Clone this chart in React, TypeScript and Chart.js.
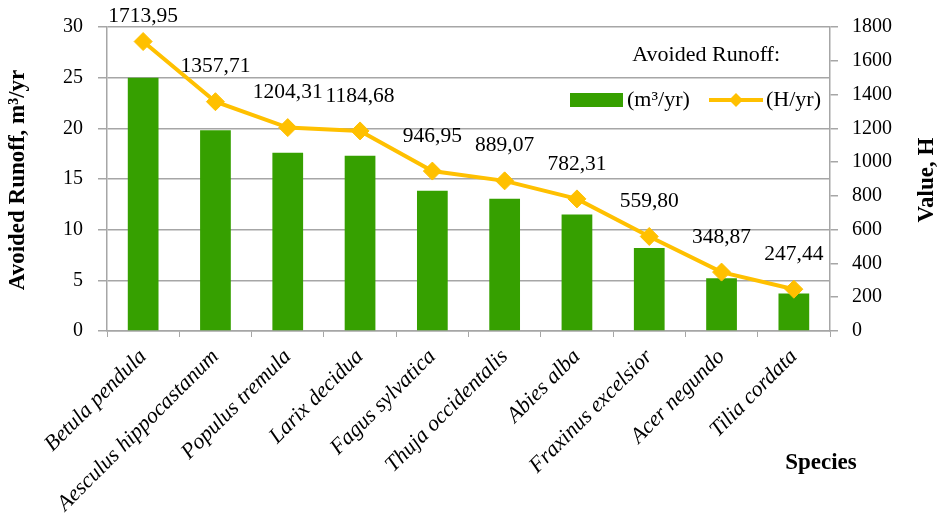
import React, { useEffect, useRef } from "react";
import { Chart, registerables } from "chart.js";

Chart.register(...registerables);

const species = [
  "Betula pendula",
  "Aesculus hippocastanum",
  "Populus tremula",
  "Larix decidua",
  "Fagus sylvatica",
  "Thuja occidentalis",
  "Abies alba",
  "Fraxinus excelsior",
  "Acer negundo",
  "Tilia cordata",
];
const runoffM3 = [25.0, 19.8, 17.6, 17.3, 13.85, 13.05, 11.5, 8.2, 5.2, 3.7];
const runoffH = [1713.95, 1357.71, 1204.31, 1184.68, 946.95, 889.07, 782.31, 559.8, 348.87, 247.44];
const leftTicks = { min: 0, max: 30, step: 5 };
const rightTicks = { min: 0, max: 1800, step: 200 };

const SERIF = "'Liberation Serif', 'Times New Roman', serif";
const GREEN = "#36A000";
const GOLD = "#FFC000";
const GRID = "#A6A6A6";

const fmt = (v: number) => v.toFixed(2).replace(".", ",");

const overlayPlugin = {
  id: "overlay",
  afterDatasetsDraw(chart: any) {
    const ctx = chart.ctx;
    ctx.save();
    // data labels for line
    const meta = chart.getDatasetMeta(1);
    ctx.fillStyle = "#000";
    ctx.font = `21.5px ${SERIF}`;
    ctx.textAlign = "center";
    ctx.textBaseline = "middle";
    meta.data.forEach((pt: any, i: number) => {
      const y = Math.max(pt.y - 35, 16);
      ctx.fillText(fmt(runoffH[i]), pt.x, y);
    });

    // axis titles
    ctx.font = `bold 23px ${SERIF}`;
    ctx.save();
    ctx.translate(18, 180);
    ctx.rotate(-Math.PI / 2);
    ctx.fillText("Avoided Runoff, m³/yr", 0, 0);
    ctx.restore();
    ctx.save();
    ctx.translate(927, 180);
    ctx.rotate(-Math.PI / 2);
    ctx.fillText("Value, H", 0, 0);
    ctx.restore();
    ctx.fillText("Species", 821, 463);

    // legend
    ctx.font = `22px ${SERIF}`;
    ctx.textAlign = "right";
    ctx.fillText("Avoided Runoff:", 780, 55);
    ctx.fillStyle = GREEN;
    ctx.fillRect(570, 93, 53, 14);
    ctx.fillStyle = "#000";
    ctx.textAlign = "left";
    ctx.fillText("(m³/yr)", 627, 100);
    ctx.strokeStyle = GOLD;
    ctx.lineWidth = 4;
    ctx.beginPath();
    ctx.moveTo(709, 100);
    ctx.lineTo(763, 100);
    ctx.stroke();
    ctx.fillStyle = GOLD;
    ctx.beginPath();
    ctx.moveTo(736 - 7, 100);
    ctx.lineTo(736, 93);
    ctx.lineTo(736 + 7, 100);
    ctx.lineTo(736, 107);
    ctx.closePath();
    ctx.fill();
    ctx.fillStyle = "#000";
    ctx.fillText("(H/yr)", 766, 100);
    ctx.restore();
  },
};

export default function App() {
  const ref = useRef<HTMLCanvasElement>(null);
  useEffect(() => {
    if (!ref.current) return;
    const chart = new Chart(ref.current, {
      type: "bar",
      data: {
        labels: species,
        datasets: [
          {
            type: "bar",
            label: "(m³/yr)",
            data: runoffM3,
            backgroundColor: GREEN,
            borderWidth: 0,
            yAxisID: "y",
            barPercentage: 0.425,
            categoryPercentage: 1,
            order: 2,
          },
          {
            type: "line",
            label: "(H/yr)",
            data: runoffH,
            borderColor: GOLD,
            backgroundColor: GOLD,
            borderWidth: 4,
            pointStyle: "rectRot",
            pointRadius: 9,
            pointBorderWidth: 1,
            pointBackgroundColor: GOLD,
            pointBorderColor: GOLD,
            tension: 0,
            yAxisID: "y1",
            order: 1,
          },
        ],
      },
      options: {
        responsive: false,
        animation: false,
        devicePixelRatio: 1,
        layout: { padding: { top: 20, left: 0, right: 0, bottom: 0 } },
        plugins: {
          legend: { display: false },
          tooltip: { enabled: false },
        },
        scales: {
          x: {
            grid: {
              offset: true,
              drawOnChartArea: false,
              drawTicks: true,
              tickLength: 6,
              color: GRID,
            },
            border: { color: GRID, width: 1.5 },
            ticks: {
              color: "#000",
              font: { family: SERIF, size: 22, style: "italic" },
              maxRotation: 45,
              minRotation: 45,
              padding: 7,
              autoSkip: false,
            },
            afterFit: (s: any) => {
              s.height = 189;
            },
          },
          y: {
            position: "left",
            min: leftTicks.min,
            max: leftTicks.max,
            grid: { color: GRID, lineWidth: 1.5, tickLength: 9 },
            border: { color: GRID, width: 1.5 },
            ticks: {
              stepSize: leftTicks.step,
              color: "#000",
              font: { family: SERIF, size: 20 },
              padding: 15,
              callback: (v: any) => String(v),
            },
            afterFit: (s: any) => {
              s.width = 107;
            },
          },
          y1: {
            position: "right",
            min: rightTicks.min,
            max: rightTicks.max,
            grid: { drawOnChartArea: false, color: GRID, lineWidth: 1.5, tickLength: 8 },
            border: { color: GRID, width: 1.5 },
            ticks: {
              stepSize: rightTicks.step,
              color: "#000",
              font: { family: SERIF, size: 20 },
              padding: 14,
              callback: (v: any) => String(v),
            },
            afterFit: (s: any) => {
              s.width = 113;
            },
          },
        },
      },
      plugins: [overlayPlugin],
    });
    return () => chart.destroy();
  }, []);
  return (
    <canvas
      ref={ref}
      width={943}
      height={520}
      style={{ position: "fixed", left: 0, top: 0, display: "block" }}
    />
  );
}
